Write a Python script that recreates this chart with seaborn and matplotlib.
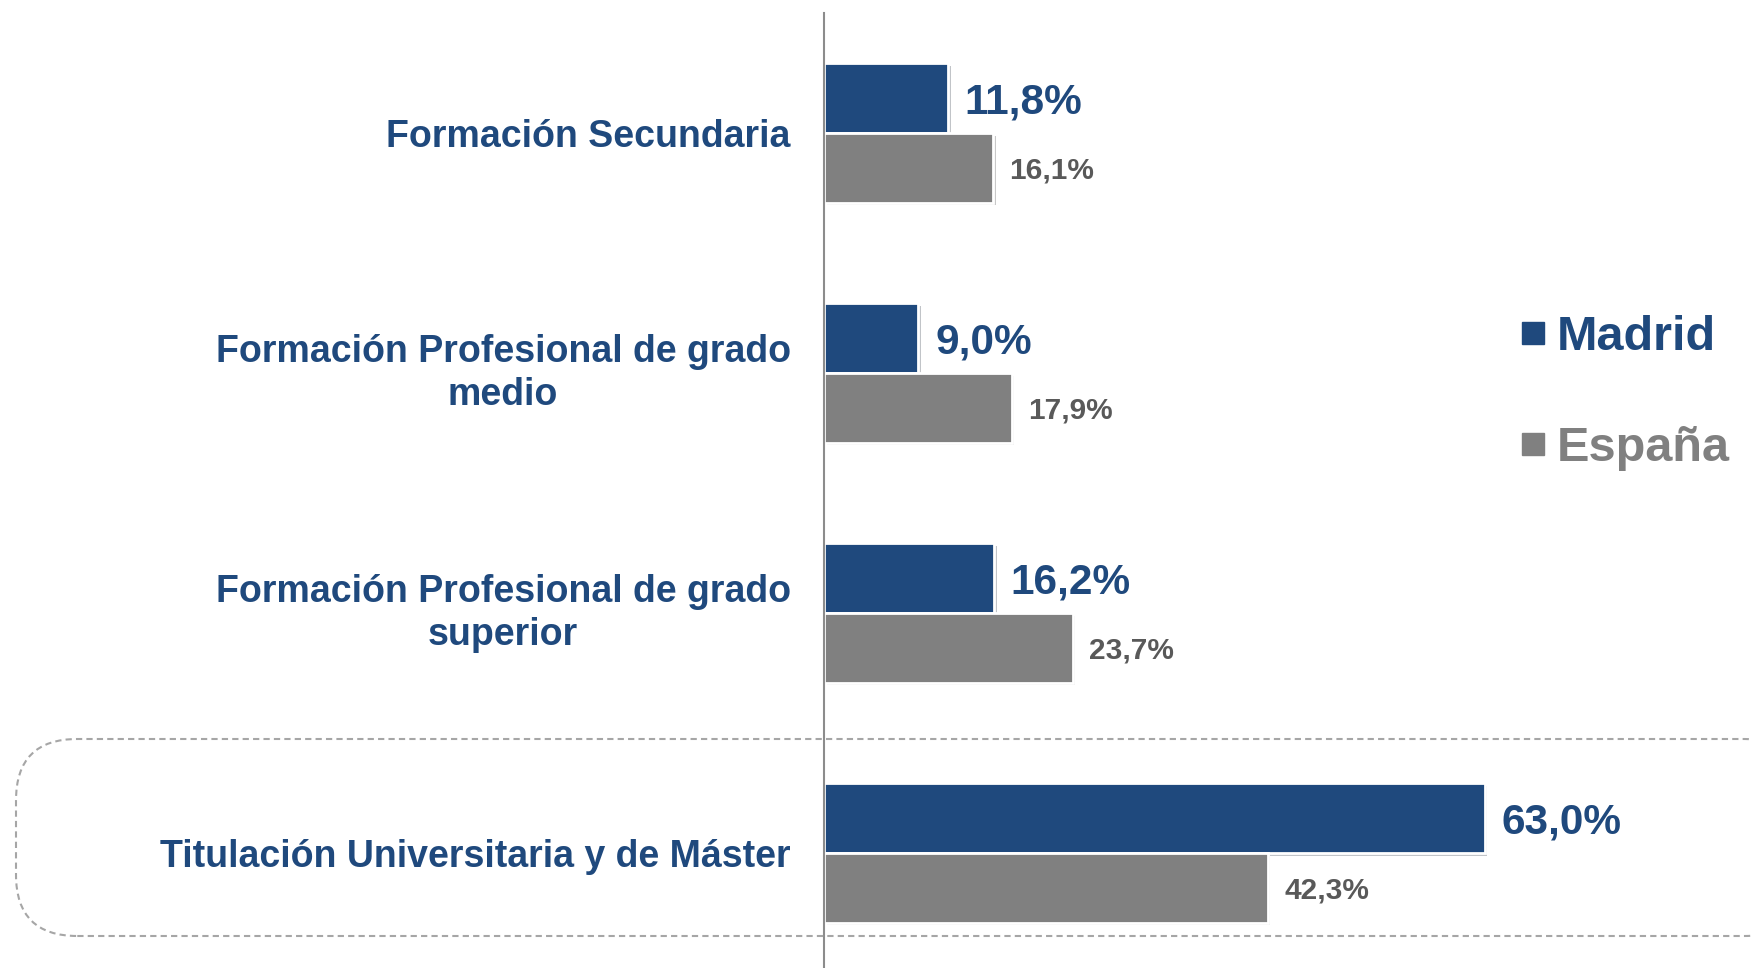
import pandas as pd
import seaborn as sns
import matplotlib.pyplot as plt
from matplotlib.lines import Line2D
from matplotlib.patches import FancyBboxPatch
from matplotlib.transforms import ScaledTranslation
import matplotlib.patheffects as pe

categories = [
    'Formación Secundaria',
    'Formación Profesional de grado\nmedio',
    'Formación Profesional de grado\nsuperior',
    'Titulación Universitaria y de Máster',
]
series = ['Madrid', 'España']
madrid_values = [11.8, 9.0, 16.2, 63.0]
espana_values = [16.1, 17.9, 23.7, 42.3]

blue = '#1F497D'
grey = '#808080'
label_grey = '#595959'

df = pd.DataFrame({
    'categoria': categories * 2,
    'serie': [series[0]] * len(categories) + [series[1]] * len(categories),
    'valor': madrid_values + espana_values,
})

sns.set_style('white')
plt.rcParams['font.family'] = ['Liberation Sans', 'DejaVu Sans']

fig = plt.figure(figsize=(17.51, 9.68), dpi=100)
ax = fig.add_axes([824 / 1751, 0, 1 - 824 / 1751, 955 / 968])

sns.barplot(
    data=df,
    x='valor',
    y='categoria',
    hue='serie',
    order=categories,
    hue_order=series,
    palette=[blue, grey],
    saturation=1,
    orient='h',
    width=0.58,
    edgecolor='white',
    linewidth=2,
    legend=False,
    ax=ax
)

shadow = [pe.SimplePatchShadow(offset=(2, -2), alpha=0.25), pe.Normal()]
for cont in ax.containers:
    for bar in cont:
        bar.set_path_effects(shadow)


def fmt(v):
    return '{:.1f}%'.format(v).replace('.', ',')


madrid_txt = ax.bar_label(ax.containers[0],
                          labels=[fmt(v) for v in madrid_values],
                          padding=12, fontsize=30.5, fontweight='bold',
                          color=blue)
espana_txt = ax.bar_label(ax.containers[1],
                          labels=[fmt(v) for v in espana_values],
                          padding=12, fontsize=21.5, fontweight='bold',
                          color=label_grey)
for t in madrid_txt + espana_txt:
    t.set_va('center_baseline')

ax.set_xlim(0, 88.4)
ax.set_ylim(3.479, -0.5)
ax.set_xlabel('')
ax.set_ylabel('')
ax.set_xticks([])

for side in ['top', 'right', 'bottom']:
    ax.spines[side].set_visible(False)
ax.spines['left'].set_color('#8c8c8c')
ax.spines['left'].set_linewidth(1.5)

ax.tick_params(axis='y', length=0, pad=24)
for lbl in ax.get_yticklabels():
    lbl.set_fontsize(27)
    lbl.set_fontweight('bold')
    lbl.set_color(blue)
    lbl.set_multialignment('center')
    lbl.set_linespacing(1.25)
    if '\n' in lbl.get_text():
        lbl.set_transform(lbl.get_transform()
                          + ScaledTranslation(0, 5 / 72, fig.dpi_scale_trans))

# legend
handles = [
    Line2D([], [], marker='s', linestyle='', markersize=16,
           markerfacecolor=blue, markeredgecolor=blue),
    Line2D([], [], marker='s', linestyle='', markersize=16,
           markerfacecolor=grey, markeredgecolor=grey),
]
leg = fig.legend(
    handles, series,
    loc='center left',
    bbox_to_anchor=(1518 / 1751, 1 - 393 / 968),
    frameon=False,
    prop={'size': 35, 'weight': 'bold'},
    handlelength=0.6,
    handletextpad=0.2,
    labelspacing=1.37,
    borderpad=0,
    borderaxespad=0,
)
for txt, col in zip(leg.get_texts(), [blue, grey]):
    txt.set_color(col)

# dashed rounded box around the university row
box = FancyBboxPatch(
    (16 / 1751, 1 - 936 / 968), 1790 / 1751, 197 / 968,
    boxstyle='round,pad=0,rounding_size=0.035',
    transform=fig.transFigure,
    fill=False, edgecolor='#a6a6a6', linestyle=(0, (3, 2)), linewidth=1.5,
    mutation_aspect=1751 / 968,
)
fig.patches.append(box)

fig.savefig('out.png', dpi=100)
